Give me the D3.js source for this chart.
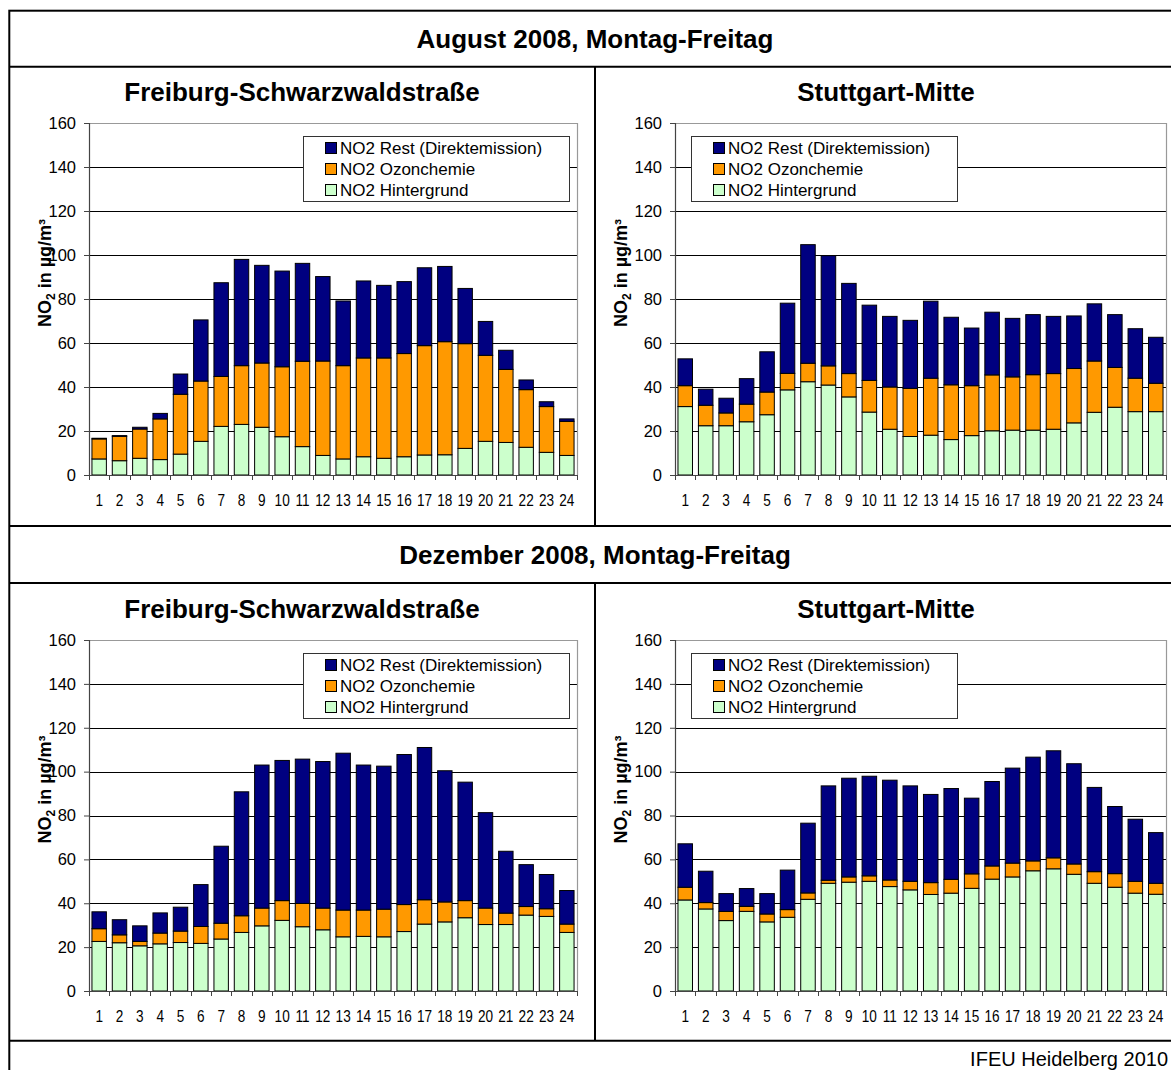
<!DOCTYPE html>
<html><head><meta charset="utf-8">
<script src="https://cdn.jsdelivr.net/npm/d3@7"></script>
<style>
html,body{margin:0;padding:0;background:#fff;}
svg{display:block;font-family:Arial,"Liberation Sans",sans-serif;}
</style>
</head><body>
<svg id="c" width="1171" height="1070"></svg>
<script>
// ---------- DATA ----------
const hours = [1,2,3,4,5,6,7,8,9,10,11,12,13,14,15,16,17,18,19,20,21,22,23,24];
const yTicks = [0,20,40,60,80,100,120,140,160];
const sectionTitles = ["August 2008, Montag-Freitag", "Dezember 2008, Montag-Freitag"];
const stationTitles = ["Freiburg-Schwarzwaldstraße", "Stuttgart-Mitte"];
const seriesKeys = ["hint", "ozon", "rest"];
const seriesNames = ["NO2 Hintergrund", "NO2 Ozonchemie", "NO2 Rest (Direktemission)"];
const seriesColors = ["#CCFFCC", "#FF9900", "#000080"];
const footerText = "IFEU Heidelberg 2010";

// August, Freiburg-Schwarzwaldstraße
const augFreiburgHint = [7.3,6.5,7.6,7.0,9.5,15.3,22.1,23.0,21.7,17.4,12.9,8.9,7.3,8.3,7.6,8.3,9.1,9.2,12.1,15.3,14.8,12.6,10.3,8.9];
const augFreiburgOzon = [9.1,11.1,13.3,18.5,27.2,27.4,22.7,26.7,29.2,31.8,38.8,42.9,42.4,44.9,45.6,46.9,49.7,51.4,47.6,39.1,33.2,26.2,20.8,15.5];
const augFreiburgRest = [0.3,0.3,0.8,2.5,9.2,27.8,42.6,48.3,44.4,43.5,44.5,38.4,29.4,35.0,33.0,32.7,35.4,34.2,25.1,15.4,8.7,4.4,2.2,1.1];

// August, Stuttgart-Mitte
const augStuttgartHint = [31.1,22.4,22.4,24.2,27.4,38.7,42.4,40.9,35.5,28.6,20.8,17.5,18.1,16.1,17.9,20.1,20.4,20.4,20.8,23.7,28.5,30.8,28.8,28.8];
const augStuttgartOzon = [9.5,9.3,5.8,8.0,10.3,7.5,8.4,8.7,10.6,14.4,19.2,21.9,25.9,24.9,22.7,25.4,24.2,25.2,25.3,24.7,23.3,18.1,15.2,12.9];
const augStuttgartRest = [12.2,7.3,6.7,11.6,18.3,31.9,53.9,50.1,41.0,34.2,32.1,30.9,35.0,30.7,26.2,28.5,26.6,27.3,26.0,23.9,26.0,24.0,22.5,20.9];

// Dezember, Freiburg-Schwarzwaldstraße
const dezFreiburgHint = [22.6,22.0,20.6,21.5,22.1,21.7,23.7,26.7,29.7,32.2,29.3,27.9,24.7,24.9,24.7,27.1,30.5,31.5,33.4,30.3,30.3,34.6,34.0,26.7];
const dezFreiburgOzon = [5.8,3.6,2.0,4.9,5.2,7.7,7.2,7.6,8.1,9.0,10.6,9.9,12.2,12.0,12.6,12.3,11.1,9.1,7.8,7.5,5.2,3.9,3.5,3.8];
const dezFreiburgRest = [7.7,6.9,7.1,9.2,10.9,19.1,35.1,56.5,65.2,63.9,65.8,66.8,71.5,66.1,65.2,68.4,69.4,59.8,54.0,43.5,28.2,19.1,15.6,15.3];

// Dezember, Stuttgart-Mitte
const dezStuttgartHint = [41.5,37.4,32.1,36.3,31.5,33.6,41.8,49.1,49.6,50.0,47.6,46.1,44.0,44.6,46.8,51.0,52.0,54.8,55.7,53.2,49.1,47.3,44.6,44.1];
const dezStuttgartOzon = [5.8,2.9,4.2,2.3,3.6,3.5,2.9,1.4,2.4,2.5,3.0,3.9,5.4,6.3,6.6,6.0,6.3,4.5,5.0,4.7,5.3,6.2,5.4,5.0];
const dezStuttgartRest = [19.8,14.3,8.1,8.1,9.3,18.0,31.8,43.0,45.0,45.4,45.5,43.5,40.2,41.4,34.5,38.5,43.3,47.3,48.8,45.7,38.4,30.6,28.3,23.1];

// ---------- LAYOUT ----------
const svg = d3.select("#c");
const W = 1171, H = 1070;
const frameL = 9.3, frameT = 10.7, divX = 595;
const rowLines = [66.7, 526, 583, 1040.7];

const panels = [
  {row:0, col:0, series:[augFreiburgHint, augFreiburgOzon, augFreiburgRest]},
  {row:0, col:1, series:[augStuttgartHint, augStuttgartOzon, augStuttgartRest]},
  {row:1, col:0, series:[dezFreiburgHint, dezFreiburgOzon, dezFreiburgRest]},
  {row:1, col:1, series:[dezStuttgartHint, dezStuttgartOzon, dezStuttgartRest]}
];
const colGeom = [
  {x0:89, x1:577, titleX:302, yTitleX:45, legendX:303},
  {x0:675, x1:1166, titleX:886, yTitleX:621, legendX:691}
];
const rowGeom = [
  {yTop:123, yBot:475, titleY:101, sectionY:48},
  {yTop:640, yBot:991, titleY:618, sectionY:564}
];

// ---------- FRAME ----------
svg.append("rect").attr("x",frameL).attr("y",frameT).attr("width",W+20).attr("height",H+20)
  .attr("fill","none").attr("stroke","#000").attr("stroke-width",2);
rowLines.forEach(y => svg.append("line").attr("x1",frameL).attr("x2",W+5).attr("y1",y).attr("y2",y)
  .attr("stroke","#000").attr("stroke-width",2));
[[rowLines[0],rowLines[1]],[rowLines[2],rowLines[3]]].forEach(([a,b]) =>
  svg.append("line").attr("x1",divX).attr("x2",divX).attr("y1",a).attr("y2",b)
    .attr("stroke","#000").attr("stroke-width",2));

sectionTitles.forEach((t,i) => {
  svg.append("text").attr("x",divX).attr("y",rowGeom[i].sectionY).attr("text-anchor","middle")
    .attr("font-size",26).attr("font-weight","bold").attr("fill","#000").text(t);
});
svg.append("text").attr("x",1168).attr("y",1066).attr("text-anchor","end")
  .attr("font-size",20).attr("fill","#000").text(footerText);

// ---------- PANELS ----------
panels.forEach(p => {
  const cg = colGeom[p.col], rg = rowGeom[p.row];
  const g = svg.append("g");
  const x = d3.scaleBand().domain(hours).range([cg.x0, cg.x1]).paddingInner(0.29).paddingOuter(0.145);
  const y = d3.scaleLinear().domain([0,160]).range([rg.yBot, rg.yTop]);

  // title
  g.append("text").attr("x",cg.titleX).attr("y",rg.titleY).attr("text-anchor","middle")
    .attr("font-size",26).attr("font-weight","bold").attr("fill","#000").text(stationTitles[p.col]);

  // gridlines
  yTicks.filter(v => v>0 && v<160).forEach(v => {
    g.append("line").attr("x1",cg.x0).attr("x2",cg.x1).attr("y1",Math.round(y(v))+0.5).attr("y2",Math.round(y(v))+0.5)
      .attr("stroke","#000").attr("stroke-width",1);
  });
  // plot border top & right (gray)
  g.append("path").attr("d",`M${cg.x0},${Math.round(y(160))+0.5}H${cg.x1+0.5}V${rg.yBot}`)
    .attr("fill","none").attr("stroke","#999").attr("stroke-width",1.2);

  // stacked bars
  const rows = hours.map((h,i) => ({hour:h, hint:p.series[0][i], ozon:p.series[1][i], rest:p.series[2][i]}));
  const stack = d3.stack().keys(seriesKeys)(rows);
  stack.forEach((layer, li) => {
    g.append("g").selectAll("rect").data(layer).join("rect")
      .attr("x", d => x(d.data.hour))
      .attr("y", d => y(d[1]))
      .attr("width", x.bandwidth())
      .attr("height", d => y(d[0]) - y(d[1]))
      .attr("fill", seriesColors[li])
      .attr("stroke","#000").attr("stroke-width",1);
  });

  // y axis
  const ya = g.append("g").attr("transform",`translate(${cg.x0},0)`)
    .call(d3.axisLeft(y).tickValues(yTicks).tickSize(5).tickPadding(8).tickFormat(d3.format("d")));
  ya.select(".domain").attr("stroke","#444").attr("stroke-width",1.2);
  ya.selectAll(".tick line").attr("stroke","#444");
  ya.selectAll("text").attr("font-size",16.5).attr("fill","#000").attr("font-family","Arial, 'Liberation Sans', sans-serif");

  // x axis
  const xa = g.append("g").attr("transform",`translate(0,${rg.yBot})`)
    .call(d3.axisBottom(x).tickSize(0).tickPadding(19));
  xa.select(".domain").attr("stroke","#444").attr("stroke-width",1.2);
  xa.selectAll("text").attr("font-size",17).attr("fill","#000")
    .attr("font-family","Arial, 'Liberation Sans', sans-serif")
    .attr("transform","scale(0.8,1)");
  // tick marks at band boundaries
  const step = x.step();
  d3.range(hours.length+1).forEach(i => {
    const xx = Math.round(cg.x0 + i*step)+0.5;
    xa.append("line").attr("x1",xx).attr("x2",xx).attr("y1",0).attr("y2",5).attr("stroke","#444");
  });

  // y-axis title
  const yc = (rg.yTop + rg.yBot)/2 - 26;
  const yt = g.append("text").attr("transform",`translate(${cg.yTitleX + 6},${yc}) rotate(-90)`)
    .attr("text-anchor","middle").attr("font-size",18).attr("font-weight","bold").attr("fill","#000");
  yt.append("tspan").text("NO");
  yt.append("tspan").attr("font-size",12).attr("dy",4).text("2");
  yt.append("tspan").attr("dy",-4).text(" in µg/m³");

  // legend
  const lx = cg.legendX, ly = rg.yTop + 13;
  const lg = g.append("g");
  lg.append("rect").attr("x",lx+0.5).attr("y",ly+0.5).attr("width",266).attr("height",65)
    .attr("fill","#fff").attr("stroke","#333").attr("stroke-width",1);
  [2,1,0].forEach((si, k) => {
    const by = ly + 18 + k*21;
    lg.append("rect").attr("x",lx+22.5).attr("y",by-11.5).attr("width",11).attr("height",11)
      .attr("fill",seriesColors[si]).attr("stroke","#000").attr("stroke-width",1);
    lg.append("text").attr("x",lx+37).attr("y",by).attr("font-size",17).attr("fill","#000").text(seriesNames[si]);
  });
});
</script>
</body></html>
